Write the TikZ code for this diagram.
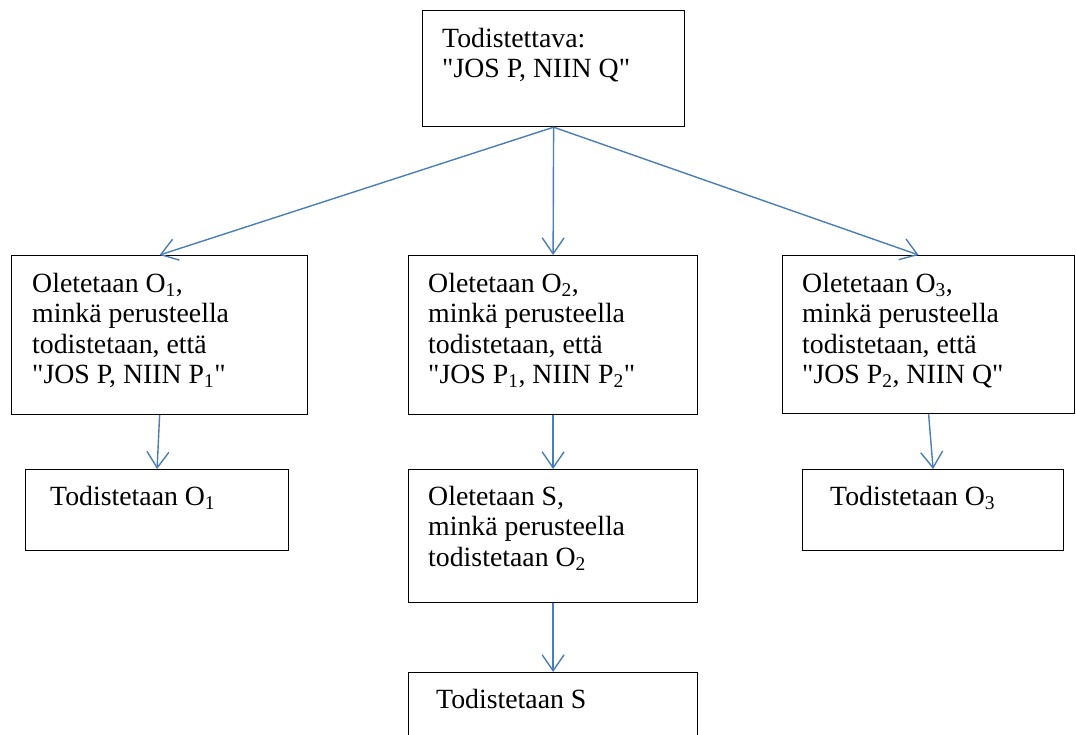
\documentclass[tikz,border=0pt]{standalone}
\usepackage{fontspec}
\setmainfont{Liberation Serif}[Ligatures=TeXOff]
\usetikzlibrary{arrows.meta,calc}
\definecolor{arrowblue}{RGB}{74,126,187}
\begin{document}
\begin{tikzpicture}[x=1pt,y=-1pt,
  box/.style={draw=black, line width=1.2pt, inner sep=0pt, anchor=north west, rectangle},
  txt/.style={inner sep=0pt, anchor=north west, align=left, font=\fontsize{27.8}{30.3}\selectfont},
  arr/.style={draw=arrowblue, line width=1.4pt, -{Straight Barb[length=16pt,width=22pt]}}]
\useasboundingbox (0,0) rectangle (1076,735);
% boxes
\node[box, minimum width=262pt, minimum height=116pt] (top) at (422,10) {};
\node[box, minimum width=296pt, minimum height=159pt] (o1) at (11,255) {};
\node[box, minimum width=289pt, minimum height=159pt] (o2) at (408,255) {};
\node[box, minimum width=292pt, minimum height=158pt] (o3) at (782,255) {};
\node[box, minimum width=263pt, minimum height=81pt] (t1) at (25,469) {};
\node[box, minimum width=289pt, minimum height=133pt] (s) at (408,469) {};
\node[box, minimum width=261pt, minimum height=81pt] (t3) at (802,469) {};
\node[box, minimum width=289pt, minimum height=80pt] (ts) at (408,672) {};
% texts
\node[txt] (toptxt) at ($(top.north west)+(20,18)$) {Todistettava:\\"JOS P, NIIN Q"};
\node[txt] (o1txt) at ($(o1.north west)+(21,18)$) {Oletetaan O\textsubscript{1},\\minkä perusteella\\todistetaan, että\\"JOS P, NIIN P\textsubscript{1}"};
\node[txt] (o2txt) at ($(o2.north west)+(20,18)$) {Oletetaan O\textsubscript{2},\\minkä perusteella\\todistetaan, että\\"JOS P\textsubscript{1}, NIIN P\textsubscript{2}"};
\node[txt] (o3txt) at ($(o3.north west)+(20,18)$) {Oletetaan O\textsubscript{3},\\minkä perusteella\\todistetaan, että\\"JOS P\textsubscript{2}, NIIN Q"};
\node[txt] (t1txt) at ($(t1.north west)+(25,17)$) {Todistetaan O\textsubscript{1}};
\node[txt] (stxt) at ($(s.north west)+(20,17)$) {Oletetaan S,\\minkä perusteella\\todistetaan O\textsubscript{2}};
\node[txt] (t3txt) at ($(t3.north west)+(28,17)$) {Todistetaan O\textsubscript{3}};
\node[txt] (tstxt) at ($(ts.north west)+(28,17)$) {Todistetaan S};
% arrows
\draw[arr] (top.south) -- (o1.north);
\draw[arr] (top.south) -- (o2.north);
\draw[arr] (top.south) -- ($(o3.north)+(-10,0)$);
\draw[arr] (o1.south) -- (t1.north);
\draw[arr] (o2.south) -- (s.north);
\draw[arr] (s.south) -- (ts.north);
\draw[arr] (o3.south) -- (t3.north);
\end{tikzpicture}
\end{document}
